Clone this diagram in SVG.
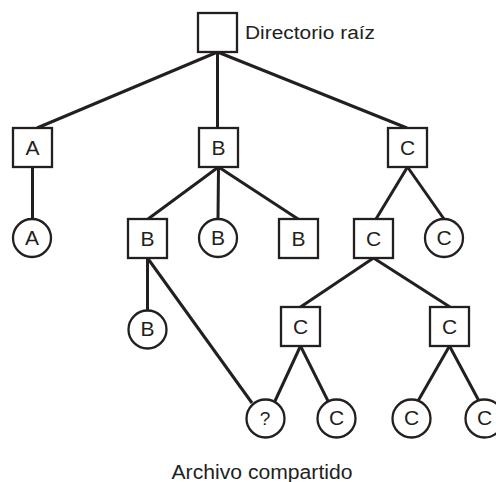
<svg xmlns="http://www.w3.org/2000/svg" width="496" height="482" viewBox="0 0 496 482">
<style>
.n{fill:#fff;stroke:#231f20;stroke-width:2.3}
.e line{stroke:#231f20;stroke-width:3}
text{font-family:"Liberation Sans",Arial,sans-serif;fill:#231f20}
.l{font-size:21px;text-anchor:middle}
</style>
<rect width="496" height="482" fill="#fff"/>
<g id="connectors" class="e">
<line x1="217.5" y1="52" x2="37" y2="128"/>
<line x1="217.5" y1="52" x2="217.5" y2="128"/>
<line x1="217.5" y1="52" x2="407" y2="128"/>
<line x1="32.5" y1="167" x2="32.5" y2="219"/>
<line x1="218.5" y1="167" x2="148" y2="219"/>
<line x1="218.5" y1="167" x2="218" y2="219"/>
<line x1="218.5" y1="167" x2="298" y2="219"/>
<line x1="407.5" y1="167" x2="376" y2="219"/>
<line x1="407.5" y1="167" x2="444" y2="219"/>
<line x1="147.5" y1="258" x2="147.5" y2="310.5"/>
<line x1="147.5" y1="258" x2="252" y2="403"/>
<line x1="373.5" y1="258" x2="300.5" y2="307"/>
<line x1="373.5" y1="258" x2="450" y2="307"/>
<line x1="300.5" y1="346" x2="275" y2="401"/>
<line x1="300.5" y1="346" x2="328" y2="401"/>
<line x1="449.5" y1="346" x2="418" y2="401"/>
<line x1="449.5" y1="346" x2="479" y2="401"/>
</g>
<g id="root"><rect class="n" x="198" y="13" width="39" height="39"/><text x="245" y="38.5" font-size="18" textLength="130" lengthAdjust="spacingAndGlyphs">Directorio raíz</text></g>
<g id="dirA"><rect class="n" x="13" y="128" width="39" height="39"/><text class="l" x="32.5" y="155">A</text></g>
<g id="dirB"><rect class="n" x="199" y="128" width="39" height="39"/><text class="l" x="218.5" y="155">B</text></g>
<g id="dirC"><rect class="n" x="388" y="128" width="39" height="39"/><text class="l" x="407.5" y="155">C</text></g>
<g id="fileA"><circle class="n" cx="32" cy="238" r="19"/><text class="l" x="32" y="244.5">A</text></g>
<g id="dirB2"><rect class="n" x="128" y="219" width="39" height="39"/><text class="l" x="147.5" y="246">B</text></g>
<g id="fileB1"><circle class="n" cx="218" cy="238" r="19"/><text class="l" x="218" y="244.5">B</text></g>
<g id="dirB3"><rect class="n" x="279" y="219" width="39" height="39"/><text class="l" x="298.5" y="246">B</text></g>
<g id="dirC2"><rect class="n" x="354" y="219" width="39" height="39"/><text class="l" x="373.5" y="246">C</text></g>
<g id="fileC1"><circle class="n" cx="444" cy="238" r="19"/><text class="l" x="444" y="244.5">C</text></g>
<g id="fileB2"><circle class="n" cx="147.5" cy="329.5" r="19"/><text class="l" x="147.5" y="336">B</text></g>
<g id="dirC3"><rect class="n" x="281" y="307" width="39" height="39"/><text class="l" x="300.5" y="334">C</text></g>
<g id="dirC4"><rect class="n" x="430" y="307" width="39" height="39"/><text class="l" x="449.5" y="334">C</text></g>
<g id="shared"><circle class="n" cx="265.5" cy="418.5" r="19"/><text class="l" x="265" y="425" style="font-size:19px">?</text></g>
<g id="fileC2"><circle class="n" cx="336.5" cy="418.5" r="19"/><text class="l" x="336.5" y="424.5">C</text></g>
<g id="fileC3"><circle class="n" cx="411.5" cy="418.5" r="19"/><text class="l" x="411.5" y="424.5">C</text></g>
<g id="fileC4"><circle class="n" cx="484.5" cy="418.5" r="19"/><text class="l" x="484.5" y="424.5">C</text></g>
<text x="262" y="479" font-size="19.5" text-anchor="middle" textLength="181" lengthAdjust="spacingAndGlyphs">Archivo compartido</text>
</svg>
